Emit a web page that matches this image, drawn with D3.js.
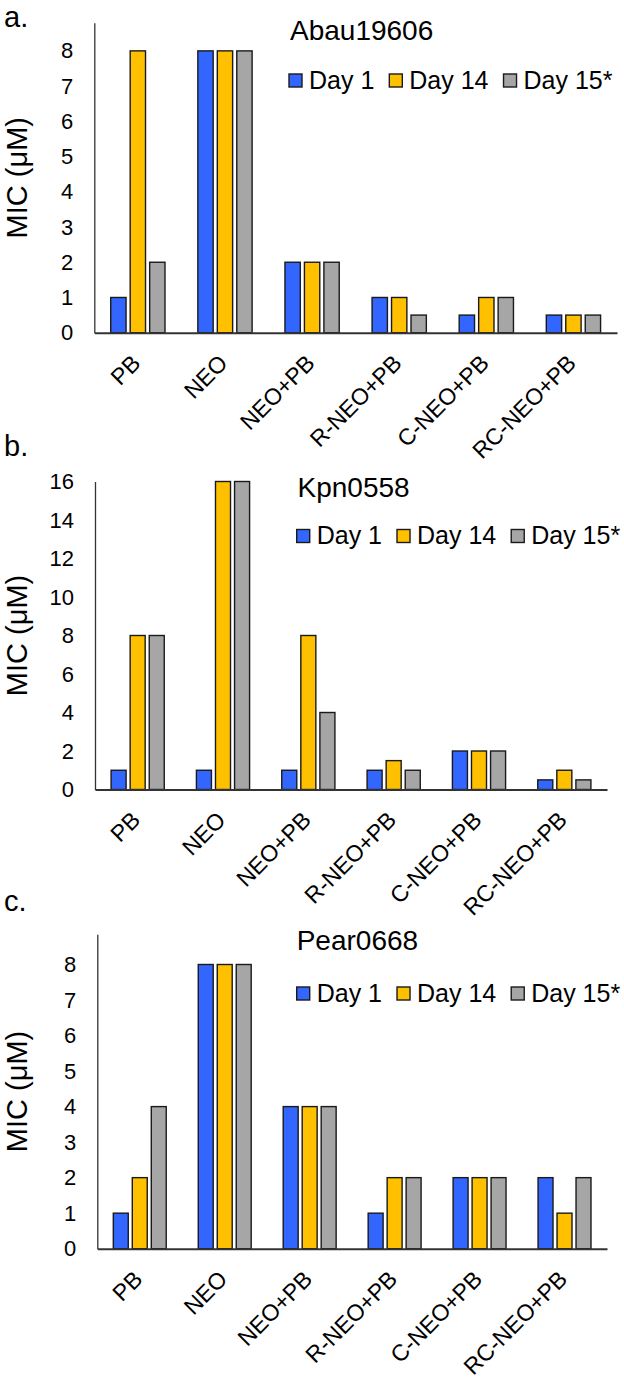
<!DOCTYPE html>
<html>
<head>
<meta charset="utf-8">
<script src="https://cdn.jsdelivr.net/npm/d3@7"></script>
<style>
  html, body { margin: 0; padding: 0; background: #fff; }
  svg { display: block; }
  text { font-family: "Liberation Sans", Arial, sans-serif; fill: #000; }
</style>
</head>
<body>
<svg id="chart" width="624" height="1380"></svg>
<script>
// ---- data ----
const categories = ["PB", "NEO", "NEO+PB", "R-NEO+PB", "C-NEO+PB", "RC-NEO+PB"];
const seriesNames = ["Day 1", "Day 14", "Day 15*"];
const seriesColors = ["#3366ff", "#ffc000", "#a6a6a6"];

const abauDay1  = [1, 8, 2, 1, 0.5, 0.5];
const abauDay14 = [8, 8, 2, 1, 1, 0.5];
const abauDay15 = [2, 8, 2, 0.5, 1, 0.5];

const kpnDay1  = [1, 1, 1, 1, 2, 0.5];
const kpnDay14 = [8, 16, 8, 1.5, 2, 1];
const kpnDay15 = [8, 16, 4, 1, 2, 0.5];

const pearDay1  = [1, 8, 4, 1, 2, 2];
const pearDay14 = [2, 8, 4, 2, 2, 1];
const pearDay15 = [4, 8, 4, 2, 2, 2];

const abauTicks = [0, 1, 2, 3, 4, 5, 6, 7, 8];
const kpnTicks  = [0, 2, 4, 6, 8, 10, 12, 14, 16];
const pearTicks = [0, 1, 2, 3, 4, 5, 6, 7, 8];

const panels = [
  { letter: "a.", title: "Abau19606", series: [abauDay1, abauDay14, abauDay15], ticks: abauTicks, yMax: 8.8,
    layout: { left: 94.3, right: 617, top: 22.7, bottom: 332.7, letterY: 26.5, titleX: 290, titleY: 39.5, legX: 289, legY: 74 } },
  { letter: "b.", title: "Kpn0558", series: [kpnDay1, kpnDay14, kpnDay15], ticks: kpnTicks, yMax: 16,
    layout: { left: 95, right: 607, top: 481.5, bottom: 789.5, letterY: 456, titleX: 297.5, titleY: 497, legX: 296.7, legY: 529.5 } },
  { letter: "c.", title: "Pear0668", series: [pearDay1, pearDay14, pearDay15], ticks: pearTicks, yMax: 8.85,
    layout: { left: 97.3, right: 607, top: 934.3, bottom: 1248.7, letterY: 911, titleX: 296.7, titleY: 950, legX: 296.7, legY: 987 } }
];

const svg = d3.select("#chart");

panels.forEach(p => {
  const L = p.layout;
  const g = svg.append("g");

  const x = d3.scaleBand().domain(categories).range([L.left, L.right]).padding(0);
  const y = d3.scaleLinear().domain([0, p.yMax]).range([L.bottom, L.top]);
  const band = x.bandwidth();
  const step = band * 0.2235;
  const bw = band * 0.176;
  const xs = d3.scaleBand().domain(seriesNames).range([-1.5 * step, 1.5 * step]);

  // panel letter
  g.append("text").attr("x", 4).attr("y", L.letterY)
    .style("font-size", "29px")
    .text(p.letter);

  // bars
  p.series.forEach((vals, si) => {
    g.append("g").selectAll("rect")
      .data(vals.map((v, i) => ({ cat: categories[i], v })))
      .join("rect")
      .attr("x", d => x(d.cat) + band / 2 + xs(seriesNames[si]) + (step - bw) / 2)
      .attr("y", d => y(d.v))
      .attr("width", bw)
      .attr("height", d => y(0) - y(d.v))
      .attr("fill", seriesColors[si])
      .attr("stroke", "#1a1a1a")
      .attr("stroke-width", 1.4);
  });

  // y axis
  const yAxis = d3.axisLeft(y).tickValues(p.ticks).tickSize(0).tickPadding(21).tickFormat(d3.format("d"));
  const ya = g.append("g").attr("transform", `translate(${L.left},0)`).call(yAxis);
  ya.select(".domain").attr("stroke", "#333").attr("stroke-width", 1.3);
  ya.selectAll("text").style("font-family", "'Liberation Sans', Arial, sans-serif").style("font-size", "22px").attr("fill", "#000");

  // x axis
  const xAxis = d3.axisBottom(x).tickSize(0).tickSizeOuter(0).tickPadding(0);
  const xa = g.append("g").attr("transform", `translate(0,${L.bottom})`).call(xAxis);
  xa.select(".domain").attr("stroke", "#333").attr("stroke-width", 2);
  xa.selectAll("text")
    .style("font-family", "'Liberation Sans', Arial, sans-serif").style("font-size", "23px").attr("fill", "#000")
    .attr("text-anchor", "end")
    .attr("dy", 0)
    .attr("y", 0)
    .attr("transform", "translate(4,32) rotate(-45)");

  // y axis title
  g.append("text")
    .attr("transform", `translate(27,${(L.top + L.bottom) / 2}) rotate(-90)`)
    .attr("text-anchor", "middle")
    .style("font-size", "29px")
    .text("MIC (μM)");

  // chart title
  g.append("text").attr("x", L.titleX).attr("y", L.titleY)
    .style("font-size", "28px").text(p.title);

  // legend
  let lx = L.legX;
  seriesNames.forEach((name, si) => {
    g.append("rect").attr("x", lx).attr("y", L.legY).attr("width", 13).attr("height", 13)
      .attr("fill", seriesColors[si]).attr("stroke", "#1a1a1a").attr("stroke-width", 1.4);
    const t = g.append("text").attr("x", lx + 20).attr("y", L.legY + 14.5)
      .style("font-size", "25px").text(name);
    lx = lx + 20 + t.node().getComputedTextLength() + 15;
  });
});
</script>
</body>
</html>
